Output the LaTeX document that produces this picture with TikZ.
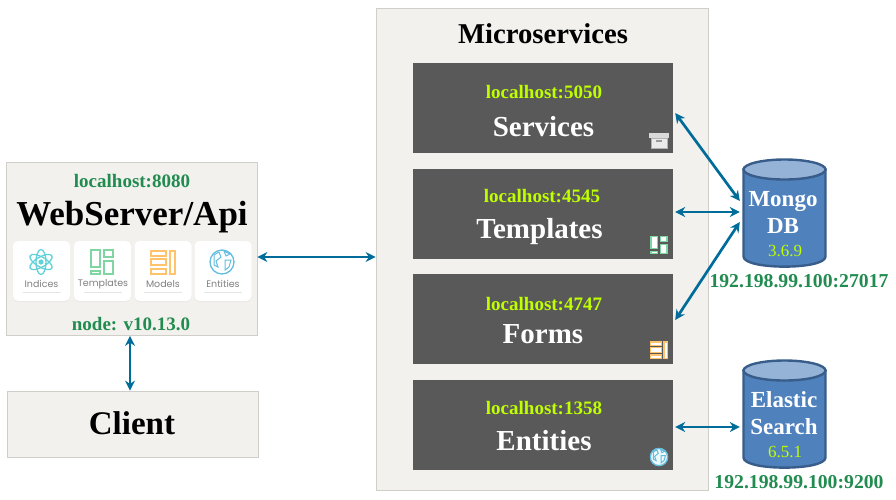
\documentclass[tikz,border=0pt]{standalone}
\usepackage{fontspec}
\setmainfont{Liberation Serif}
\newfontfamily\cardfont{Poppins}
\usetikzlibrary{arrows.meta,shadows}
\definecolor{panelgray}{HTML}{F2F1ED}
\definecolor{panelline}{HTML}{CFCEC9}
\definecolor{darkgray}{HTML}{595959}
\definecolor{hostgreen}{HTML}{228B50}
\definecolor{limetext}{HTML}{BFFF00}
\definecolor{dbfill}{HTML}{4F81BD}
\definecolor{dbline}{HTML}{385D8A}
\definecolor{dbtop}{HTML}{95B3D7}
\definecolor{arrowblue}{HTML}{006C9A}
\definecolor{atomteal}{HTML}{62D2D8}
\definecolor{tplgreen}{HTML}{7FD6A2}
\definecolor{modelorange}{HTML}{FFC46B}
\definecolor{globeblue}{HTML}{62BEE0}
\tikzset{
    atomicon/.pic={
        \fill[atomteal] (0,0) circle (2.6);
        \foreach \ang in {30,90,150}
            \draw[atomteal, line width=1.3pt, rotate=\ang] (0,0) ellipse (12.5 and 5);
    },
    tplicon/.pic={
        \draw[pic actions, line width=1.3pt] (-11,-12) rectangle (-2,5) (2,-12) rectangle (11,-5) (2,-1) rectangle (11,12) (-11,9) rectangle (-2,12);
    },
    modelicon/.pic={
        \draw[pic actions, line width=1.3pt] (-12,-11) rectangle (3,-6) (-12,-3) rectangle (3,3) (-12,7) rectangle (3,12) (7,-11) rectangle (12,12);
    },
    globeicon/.pic={
        \draw[globeblue, line width=1.3pt] (0,0) circle (12);
        \draw[globeblue, line width=1pt] (-8,-7) -- (-3,-10) -- (-1,-5) -- (-6,-1) -- (-4,5) -- (-8,3) -- cycle;
        \draw[globeblue, line width=1pt] (3,-2) -- (9,-2) -- (7,5) -- (3,8) -- cycle;
        \draw[globeblue, line width=1pt] (2,-11) -- (8,-8) -- (4,-6) -- cycle;
    },
    boxicon/.pic={
        \fill[white!85!black] (-10,-7) rectangle (10,-2);
        \fill[white!92!black, draw=white!70!black] (-8,-2) rectangle (8,8);
        \fill[white!60!black] (-3,0) rectangle (3,2);
    },
    dbdrum/.pic={
        \draw[fill=dbfill, draw=dbline, line width=2.4pt] (-41,-43.5) -- (-41,43.5) .. controls (-41,57) and (41,57) .. (41,43.5) -- (41,-43.5) -- cycle;
        \draw[fill=dbtop, draw=dbline, line width=2.4pt] (0,-43.5) ellipse (41 and 10);
    }
}
\begin{document}
\begin{tikzpicture}[x=1pt, y=-1pt,
    panel/.style={rectangle, draw=panelline, fill=panelgray, line width=0.8pt, inner sep=0pt},
    svcbox/.style={rectangle, fill=darkgray, minimum width=260pt, minimum height=90pt, inner sep=0pt},
    card/.style={rectangle, rounded corners=5pt, fill=white, minimum width=57pt, minimum height=60pt, inner sep=0pt, drop shadow={opacity=0.08, shadow xshift=0pt, shadow yshift=-1pt}},
    cardtext/.style={font=\cardfont\fontsize{9.5}{10}\selectfont, text=black!50},
    hostgr/.style={font=\fontsize{19}{21}\selectfont\bfseries, text=hostgreen},
    hostlime/.style={font=\fontsize{19}{21}\selectfont\bfseries, text=limetext},
    svctitle/.style={font=\fontsize{29}{31}\selectfont\bfseries, text=white},
    dbcyl/.style={rectangle, minimum width=83pt, minimum height=108pt, inner sep=0pt},
    dbtitle/.style={font=\fontsize{23}{27}\selectfont\bfseries, text=white, align=center},
    dbver/.style={font=\fontsize{17}{18}\selectfont, text=limetext},
    dbhost/.style={font=\fontsize{19.7}{21}\selectfont\bfseries, text=hostgreen},
    arrow/.style={<->, >={Stealth[length=10pt,width=10pt]}, line width=2.7pt, arrowblue}]
    \useasboundingbox (0,0) rectangle (896,499);

    % panels
    \node[panel, minimum width=251pt, minimum height=173pt] (web) at (131.5,249) {};
    \node[panel, minimum width=251pt, minimum height=66pt] (client) at (132.5,424) {};
    \node[panel, minimum width=332pt, minimum height=482pt] (micro) at (542,249) {};
    \node[svcbox] (services) at (543,108) {};
    \node[svcbox] (templates) at (543,214) {};
    \node[svcbox] (forms) at (543,319) {};
    \node[svcbox] (entities) at (543,425) {};

    % databases
    \node[dbcyl] (mongo) at (784.5,213) {};
    \node[dbcyl] (elastic) at (784.5,414) {};
    \pic at (784.5,213) {dbdrum};
    \pic at (784.5,414) {dbdrum};

    % web server
    \node[hostgr] (webhost) at (132,181) {localhost:8080};
    \node[font=\fontsize{35}{38}\selectfont\bfseries] (webtitle) at (132,217) {WebServer/Api};
    \node[hostgr] (webver) at (131,324) {node: v10.13.0};
    \node[card] (card1) at (41.5,271) {};
    \node[card] (card2) at (102.5,271) {};
    \node[card] (card3) at (163,271) {};
    \node[card] (card4) at (223,271) {};
    \node[cardtext] (label1) at (41.5,284) {Indices};
    \node[cardtext] (label2) at (103,284) {Templates};
    \node[cardtext] (label3) at (163,284.5) {Models};
    \node[cardtext] (label4) at (223,284) {Entities};
    \pic at (41,262) {atomicon};
    \pic[draw=tplgreen] at (102,262) {tplicon};
    \pic[draw=modelorange] at (163,262) {modelicon};
    \pic at (222,262) {globeicon};
    \foreach \cx in {41.5,103,163,223}
        \draw[black!10] (\cx-19,292) -- (\cx+19,292);

    % client
    \node[font=\fontsize{33}{36}\selectfont\bfseries] (clienttitle) at (132,423) {Client};

    % microservices
    \node[font=\fontsize{28.7}{30}\selectfont\bfseries] (microtitle) at (543,34) {Microservices};
    \node[hostlime] (host1) at (544,92) {localhost:5050};
    \node[svctitle] (title1) at (543.5,127) {Services};
    \node[hostlime] (host2) at (542,196) {localhost:4545};
    \node[svctitle] (title2) at (539.5,232) {Templates};
    \node[hostlime] (host3) at (544,304) {localhost:4747};
    \node[svctitle] (title3) at (543,334) {Forms};
    \node[hostlime] (host4) at (544,408) {localhost:1358};
    \node[svctitle] (title4) at (544,441) {Entities};
    \pic at (659,140) {boxicon};
    \pic[draw=tplgreen, fill=white, scale=0.72] at (659,245) {tplicon};
    \pic[draw=modelorange, fill=white, scale=0.72] at (659,350) {modelicon};
    \fill[white!90!globeblue] (659,457) circle (9);
    \pic[scale=0.72] at (659,457) {globeicon};

    % database text
    \node[dbtitle] (mongotext) at (783,212) {Mongo\\DB};
    \node[dbver] (mongover) at (785,251) {3.6.9};
    \node[dbhost] (mongohost) at (799,281) {192.198.99.100:27017};
    \node[dbtitle] (elastictext) at (784,413) {Elastic\\Search};
    \node[dbver] (elasticver) at (785,452) {6.5.1};
    \node[dbhost] (elastichost) at (799,482) {192.198.99.100:9200};

    % arrows
    \draw[arrow] ([yshift=-8pt]web.east) -- ([yshift=-8pt]micro.west);
    \draw[arrow] ([xshift=-1.5pt]web.south) -- ([xshift=-2.5pt]client.north);
    \draw[arrow] ([xshift=2pt,yshift=-5pt]services.east) -- ([xshift=-3pt,yshift=12pt]mongo.west);
    \draw[arrow] ([xshift=2pt,yshift=2pt]templates.east) -- ([xshift=-3pt,yshift=1pt]mongo.west);
    \draw[arrow] ([xshift=2pt,yshift=-1pt]forms.east) -- ([xshift=-3pt,yshift=-9pt]mongo.west);
    \draw[arrow] ([xshift=2pt,yshift=-2pt]entities.east) -- ([xshift=-3pt,yshift=-13pt]elastic.west);
\end{tikzpicture}
\end{document}
